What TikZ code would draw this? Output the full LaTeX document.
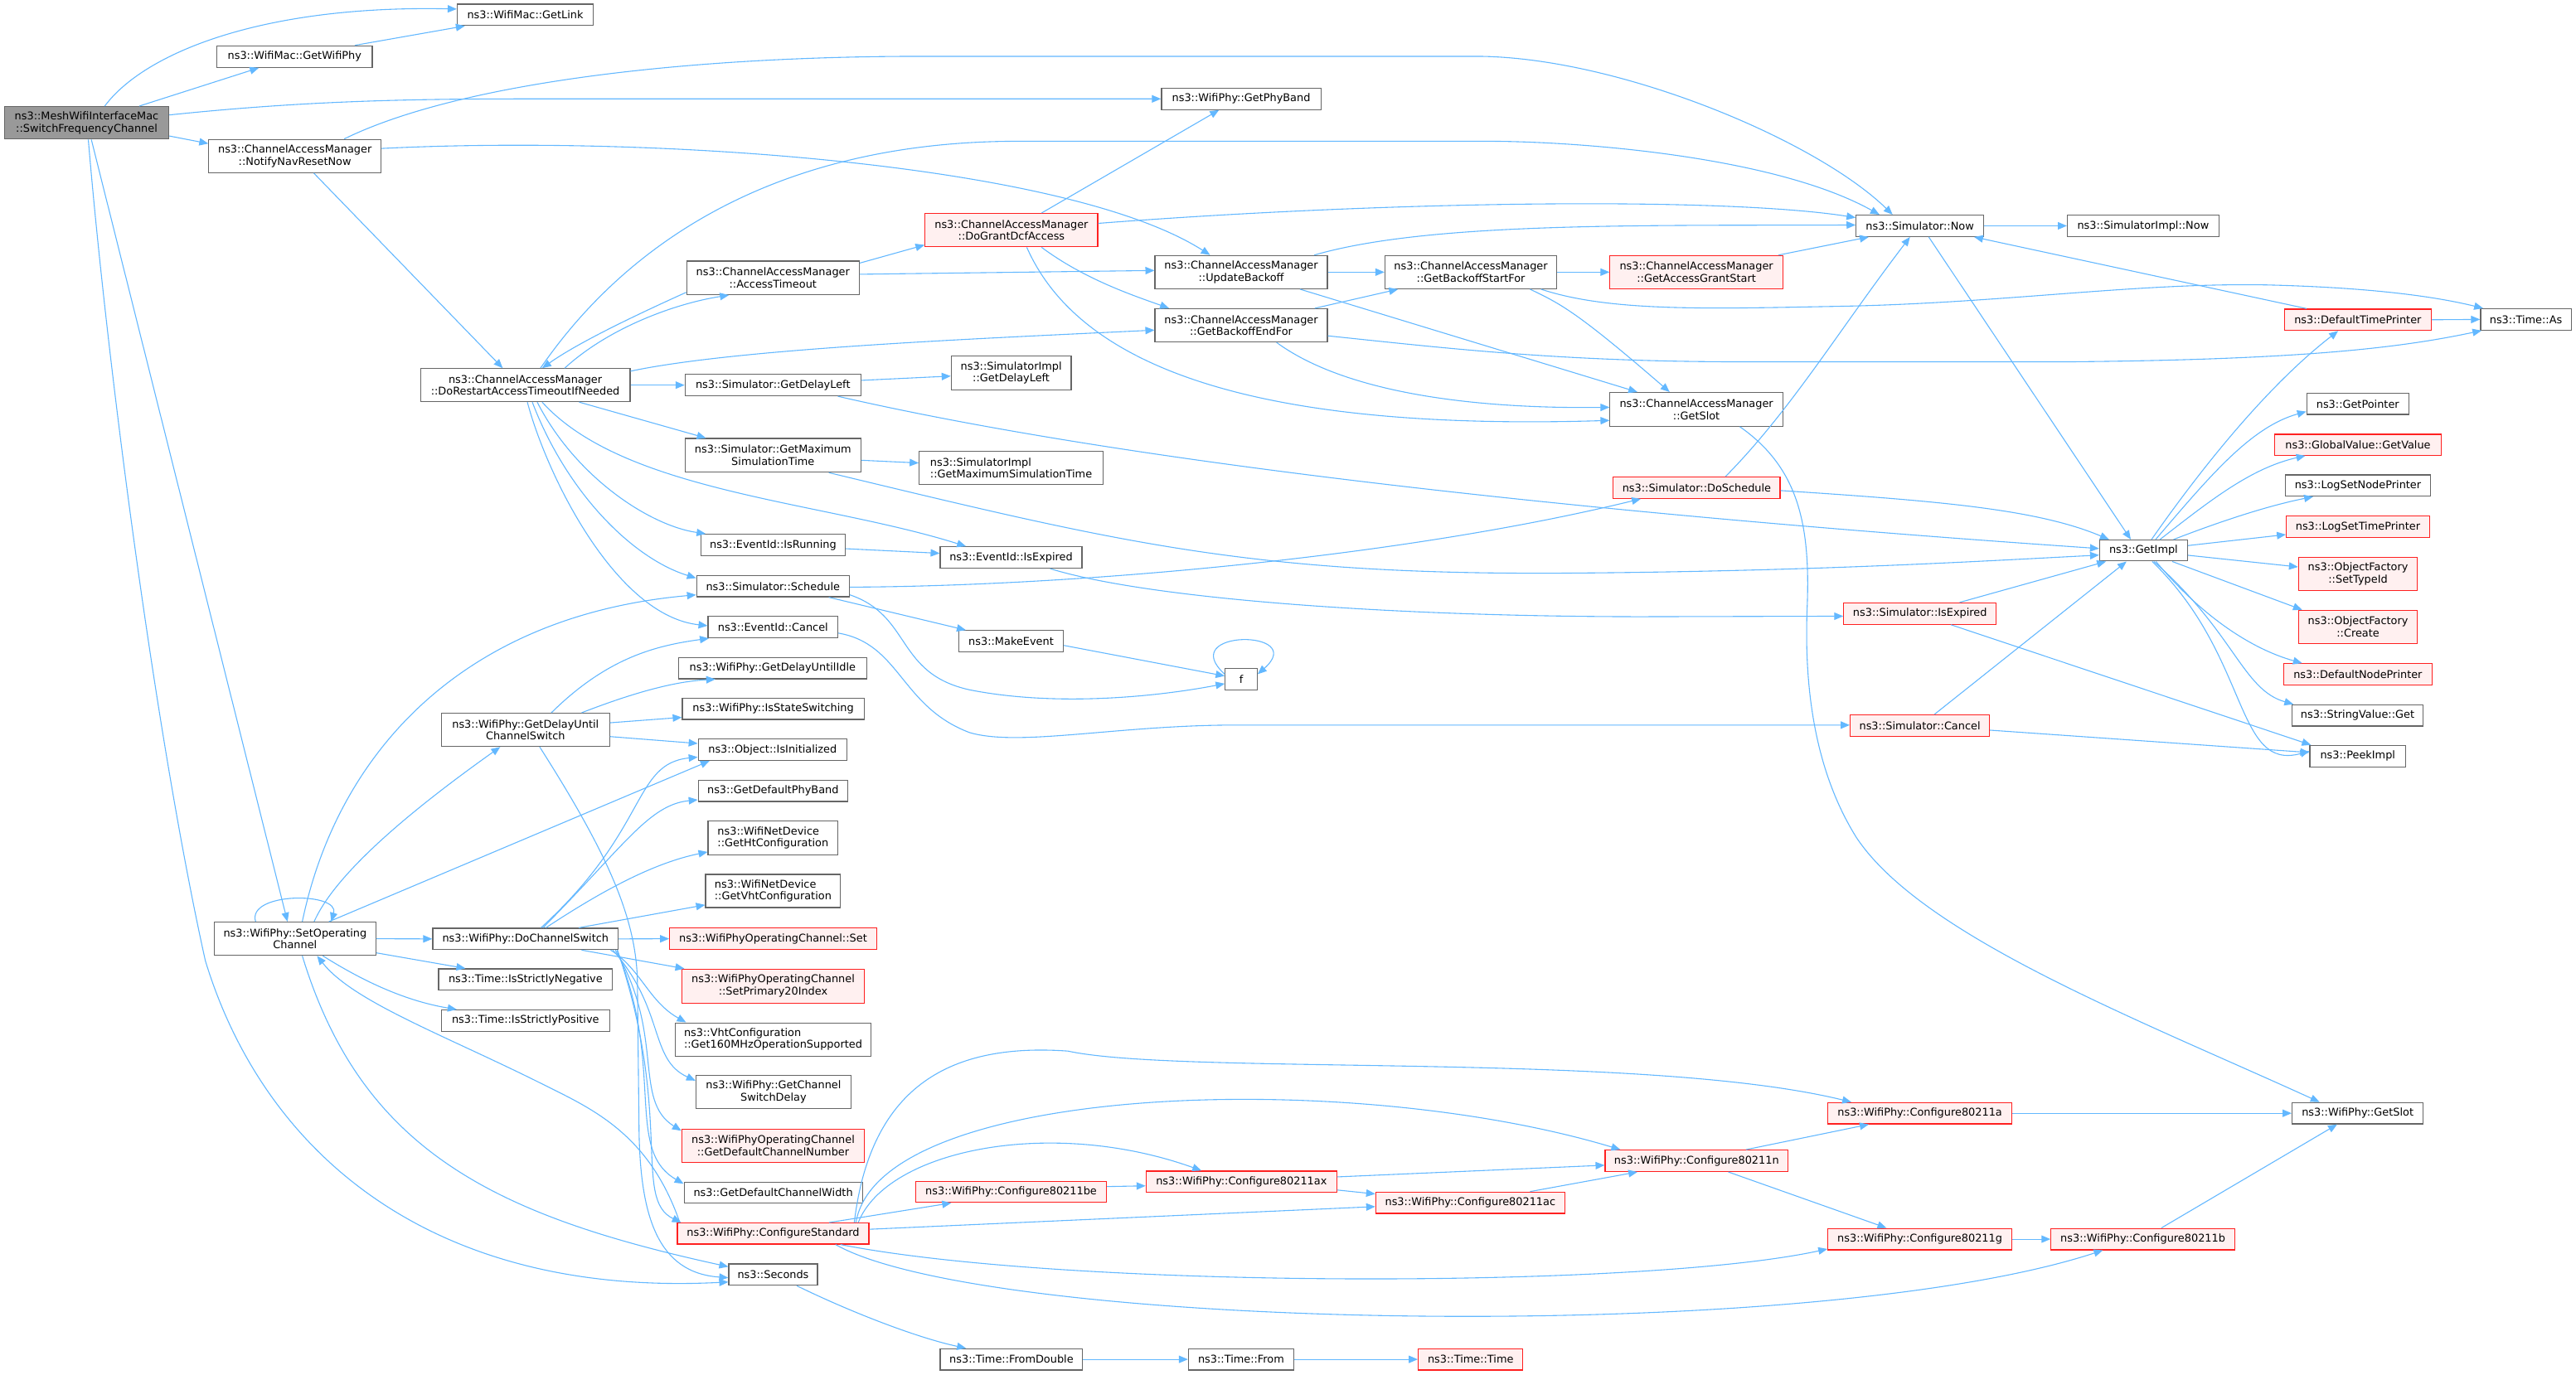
\documentclass[tikz,border=0pt]{standalone}
\usepackage{fontspec}
\setmainfont{DejaVu Sans}
\usetikzlibrary{arrows.meta}
\definecolor{eb}{HTML}{63B8FF}
\definecolor{gb}{HTML}{666666}
\definecolor{rf}{HTML}{FFF0F0}
\definecolor{rb}{HTML}{FF2020}
\definecolor{mf}{HTML}{999999}
\newcommand\mknode[7]{\node[#6,minimum width=#4pt,minimum height=#5pt] (#1) at (#2,#3) {#7};}
\begin{document}
\begin{tikzpicture}[x=1pt,y=-1pt,
  box/.style={draw=gb,fill=white,line width=0.6pt,inner sep=0pt,align=center,font=\fontsize{6.5}{7.4}\selectfont},
  boxl/.style={box,align=left},
  rbox/.style={box,draw=rb,fill=rf,line width=0.6pt},
  mainbox/.style={box,fill=mf},
  cn/.style={draw=eb,line width=0.55pt,-{Triangle[length=5.5pt,width=4.5pt]}}]
\useasboundingbox (0,0) rectangle (1568,837.2);
\fill[white] (0,0) rectangle (1568,837.2);
% nodes
\mknode{main}{52.75}{74.8}{99.9}{19.8}{mainbox}{ns3::MeshWifiInterfaceMac\\::SwitchFrequencyChannel}
\mknode{getlink}{319.7}{9}{82.8}{13}{box}{ns3::WifiMac::GetLink}
\mknode{getwifiphy}{179.3}{34.45}{94.6}{13.1}{box}{ns3::WifiMac::GetWifiPhy}
\mknode{navreset}{179.5}{95}{104.8}{20.2}{box}{ns3::ChannelAccessManager\\::NotifyNavResetNow}
\mknode{setop}{179.6}{571.6}{98.4}{20.2}{box}{ns3::WifiPhy::SetOperating\\Channel}
\mknode{getphyband}{755.5}{60.2}{97}{13}{box}{ns3::WifiPhy::GetPhyBand}
\mknode{dorestart}{319.75}{234.5}{127.5}{20.1}{box}{ns3::ChannelAccessManager\\::DoRestartAccessTimeoutIfNeeded}
\mknode{delaych}{319.85}{444.4}{102.3}{20.2}{box}{ns3::WifiPhy::GetDelayUntil\\ChannelSwitch}
\mknode{dochsw}{319.85}{571.7}{112.9}{13}{box}{ns3::WifiPhy::DoChannelSwitch}
\mknode{negative}{319.9}{596.45}{105.8}{13}{box}{ns3::Time::IsStrictlyNegative}
\mknode{positive}{319.85}{621.45}{102.3}{13}{box}{ns3::Time::IsStrictlyPositive}
\mknode{accto}{470.5}{169.2}{105}{20.4}{box}{ns3::ChannelAccessManager\\::AccessTimeout}
\mknode{delayleft}{470.5}{234.5}{107}{13}{box}{ns3::Simulator::GetDelayLeft}
\mknode{maxsim}{470.5}{277.25}{107}{20.5}{box}{ns3::Simulator::GetMaximum\\SimulationTime}
\mknode{isrunning}{470.55}{331.8}{87.9}{13}{box}{ns3::EventId::IsRunning}
\mknode{schedule}{470.5}{356.9}{93}{13}{box}{ns3::Simulator::Schedule}
\mknode{cancel}{470.5}{381.9}{79}{13}{box}{ns3::EventId::Cancel}
\mknode{untilidle}{470.25}{406.8}{114.5}{13}{box}{ns3::WifiPhy::GetDelayUntilIdle}
\mknode{stateswitch}{470.65}{431.5}{110.7}{13}{box}{ns3::WifiPhy::IsStateSwitching}
\mknode{isinit}{470.25}{456.5}{90.5}{13}{box}{ns3::Object::IsInitialized}
\mknode{defphyband}{470.5}{481.5}{91}{13}{box}{ns3::GetDefaultPhyBand}
\mknode{htconf}{470.5}{510.25}{79}{20.5}{boxl}{ns3::WifiNetDevice\\::GetHtConfiguration}
\mknode{vhtconf}{470.55}{542.5}{82.1}{20.2}{boxl}{ns3::WifiNetDevice\\::GetVhtConfiguration}
\mknode{ocset}{470.6}{571.6}{126}{13}{rbox}{ns3::WifiPhyOperatingChannel::Set}
\mknode{prim20}{470.6}{600.4}{111.2}{20.6}{rbox}{ns3::WifiPhyOperatingChannel\\::SetPrimary20Index}
\mknode{vht160}{470.6}{632.9}{119.2}{20.2}{boxl}{ns3::VhtConfiguration\\::Get160MHzOperationSupported}
\mknode{chswdelay}{470.8}{665}{94.4}{20.2}{box}{ns3::WifiPhy::GetChannel\\SwitchDelay}
\mknode{defchnum}{470.6}{697.5}{111.2}{20.2}{rbox}{ns3::WifiPhyOperatingChannel\\::GetDefaultChannelNumber}
\mknode{defchwidth}{470.65}{726.3}{108.5}{12.8}{box}{ns3::GetDefaultChannelWidth}
\mknode{cfgstd}{470.6}{751.1}{116.6}{12.8}{rbox}{ns3::WifiPhy::ConfigureStandard}
\mknode{seconds}{470.6}{776.1}{54}{13}{box}{ns3::Seconds}
\mknode{grant}{615.65}{140.15}{105.1}{20.3}{rbox}{ns3::ChannelAccessManager\\::DoGrantDcfAccess}
\mknode{impldelayleft}{615.5}{227.1}{73}{20.6}{box}{ns3::SimulatorImpl\\::GetDelayLeft}
\mknode{implmaxsim}{615.45}{284.9}{111.9}{20.4}{boxl}{ns3::SimulatorImpl\\::GetMaximumSimulationTime}
\mknode{isexpired}{615.45}{339.45}{86.3}{13}{box}{ns3::EventId::IsExpired}
\mknode{makeevent}{615.45}{390.45}{63.7}{13}{box}{ns3::MakeEvent}
\mknode{cfbe}{615.45}{725.7}{116.1}{13}{rbox}{ns3::WifiPhy::Configure80211be}
\mknode{fromdouble}{615.65}{827.7}{86.7}{13}{box}{ns3::Time::FromDouble}
\mknode{updbackoff}{755.5}{165.7}{105}{20.2}{box}{ns3::ChannelAccessManager\\::UpdateBackoff}
\mknode{backoffend}{755.5}{198.1}{105}{20.2}{box}{ns3::ChannelAccessManager\\::GetBackoffEndFor}
\mknode{cfax}{755.65}{719.55}{116.1}{13}{rbox}{ns3::WifiPhy::Configure80211ax}
\mknode{tfrom}{755.45}{827.7}{64.1}{13}{box}{ns3::Time::From}
\mknode{fnode}{755.5}{413.5}{19.4}{13}{box}{f}
\mknode{backoffstart}{895.3}{165.7}{104.6}{20.2}{box}{ns3::ChannelAccessManager\\::GetBackoffStartFor}
\mknode{cfac}{894.95}{732.35}{115.1}{13}{rbox}{ns3::WifiPhy::Configure80211ac}
\mknode{ttime}{895.15}{827.7}{63.7}{13}{rbox}{ns3::Time::Time}
\mknode{grantstart}{1032.6}{165.7}{105.2}{20.2}{rbox}{ns3::ChannelAccessManager\\::GetAccessGrantStart}
\mknode{camslot}{1032.6}{249.25}{105.2}{20.5}{box}{ns3::ChannelAccessManager\\::GetSlot}
\mknode{doschedule}{1032.75}{296.95}{101.5}{13}{rbox}{ns3::Simulator::DoSchedule}
\mknode{cfn}{1032.7}{706.8}{111.4}{13}{rbox}{ns3::WifiPhy::Configure80211n}
\mknode{now}{1168.6}{137.5}{77.6}{13}{box}{ns3::Simulator::Now}
\mknode{simisexpired}{1168.65}{373.6}{92.7}{13}{rbox}{ns3::Simulator::IsExpired}
\mknode{simcancel}{1168.6}{441.75}{84.8}{13}{rbox}{ns3::Simulator::Cancel}
\mknode{cfa}{1168.6}{677.85}{112}{13}{rbox}{ns3::WifiPhy::Configure80211a}
\mknode{cfg}{1168.6}{754.5}{112}{13}{rbox}{ns3::WifiPhy::Configure80211g}
\mknode{cfb}{1304.35}{754.5}{111.9}{13}{rbox}{ns3::WifiPhy::Configure80211b}
\mknode{implnow}{1304.5}{137.5}{92.2}{13}{box}{ns3::SimulatorImpl::Now}
\mknode{getimpl}{1304.75}{335.2}{53.5}{12.8}{box}{ns3::GetImpl}
\mknode{deftimeprinter}{1435.2}{194.7}{89.2}{13}{rbox}{ns3::DefaultTimePrinter}
\mknode{timeas}{1537.5}{194.5}{55.2}{13}{box}{ns3::Time::As}
\mknode{getpointer}{1435.15}{245.95}{62.1}{12.8}{box}{ns3::GetPointer}
\mknode{getvalue}{1435.25}{270.8}{101.3}{12.8}{rbox}{ns3::GlobalValue::GetValue}
\mknode{lognode}{1435.25}{295.65}{88.1}{13}{box}{ns3::LogSetNodePrinter}
\mknode{logtime}{1435.25}{320.7}{87.1}{13}{rbox}{ns3::LogSetTimePrinter}
\mknode{settypeid}{1435.3}{349.5}{72.4}{20.2}{rbox}{ns3::ObjectFactory\\::SetTypeId}
\mknode{create}{1435.3}{381.7}{72.4}{20.2}{rbox}{ns3::ObjectFactory\\::Create}
\mknode{defnodeprinter}{1435.2}{410.6}{90.4}{13}{rbox}{ns3::DefaultNodePrinter}
\mknode{stringget}{1435}{435.6}{80}{13}{box}{ns3::StringValue::Get}
\mknode{peekimpl}{1435.15}{460.4}{58.3}{13}{box}{ns3::PeekImpl}
\mknode{physlot}{1435.1}{677.85}{79.8}{13}{box}{ns3::WifiPhy::GetSlot}
% edges
\draw[cn] ([xshift=11pt]main.north) .. controls (88,32) and (160,3) .. ([yshift=3.5pt]getlink.west);
\draw[cn] ([xshift=32pt]main.north) -- ([xshift=-21.7pt]getwifiphy.south);
\draw[cn] ([xshift=36.7pt]getwifiphy.north) -- ([xshift=-36.7pt]getlink.south);
\draw[cn] ([yshift=4.8pt]main.east) .. controls (180,62) and (240,60.2) .. (320,60.2) -- (getphyband.west);
\draw[cn] ([yshift=-8pt]main.east) -- ([yshift=7.6pt]navreset.west);
\draw[cn] ([xshift=2.85pt]main.south) -- ([xshift=-4.6pt]setop.north);
\draw[cn] ([xshift=1pt]main.south) .. controls (65,220) and (95,450) .. (125,585) .. controls (160,700) and (260,790) .. ([yshift=-4.5pt]seconds.west);
\draw[cn] ([xshift=30pt]navreset.north) .. controls (280,50) and (420,34.3) .. (560,34.3) -- (900,34.3) .. controls (985,35) and (1105,85) .. ([xshift=-16.6pt]now.north);
\draw[cn] ([xshift=11.5pt]navreset.south) -- ([xshift=-13.75pt]dorestart.north);
\draw[cn] ([yshift=4.6pt]navreset.east) .. controls (400,82) and (650,100) .. ([xshift=-18.9pt]updbackoff.north);
\draw[cn] ([xshift=9.25pt]dorestart.north) .. controls (380,150) and (470,86) .. (620,86) -- (905,86) .. controls (960,86) and (1080,95) .. ([xshift=-24.6pt]now.north);
\draw[cn] ([xshift=24pt]dorestart.north) .. controls (370,200) and (410,185) .. ([xshift=-26.8pt]accto.south);
\draw[cn] ([yshift=-8.8pt]accto.west) .. controls (380,195) and (350,210) .. ([xshift=10.25pt]dorestart.north);
\draw[cn] ([yshift=8.5pt]dorestart.east) .. controls (450,212) and (600,206) .. ([yshift=-2.9pt]backoffend.west);
\draw[cn] (dorestart.east) -- (delayleft.west);
\draw[cn] ([xshift=32.75pt]dorestart.south) -- ([xshift=-40.8pt]maxsim.north);
\draw[cn] ([xshift=7.25pt]dorestart.south) .. controls (350,290) and (395,320) .. ([xshift=-41pt]isrunning.north);
\draw[cn] ([xshift=4.25pt]dorestart.south) .. controls (345,300) and (385,340) .. ([yshift=4.9pt]schedule.west);
\draw[cn] ([xshift=1.25pt]dorestart.south) .. controls (333,290) and (375,375) .. ([yshift=0.9pt]cancel.west);
\draw[cn] ([xshift=10.25pt]dorestart.south) .. controls (380,300) and (500,305) .. ([xshift=-27.45pt]isexpired.north);
\draw[cn] ([yshift=9pt]accto.east) -- ([yshift=-9pt]grant.west);
\draw[cn] ([yshift=2.2pt]accto.east) -- ([yshift=1pt]updbackoff.west);
\draw[cn] ([xshift=18.35pt]grant.north) -- ([xshift=-13.5pt]getphyband.south);
\draw[cn] ([yshift=4.15pt]grant.east) .. controls (850,122) and (1050,120) .. ([yshift=5pt]now.west);
\draw[cn] ([xshift=18.35pt]grant.south) .. controls (660,170) and (690,180) .. ([xshift=-43.9pt]backoffend.north);
\draw[cn] ([xshift=9.35pt]grant.south) .. controls (660,230) and (780,262) .. ([yshift=-6.75pt]camslot.west);
\draw[cn] (updbackoff.east) -- (backoffstart.west);
\draw[cn] ([xshift=44.5pt]updbackoff.north) .. controls (870,135) and (1000,137.5) .. ([yshift=0.5pt]now.west);
\draw[cn] ([xshift=35.8pt]updbackoff.south) -- ([xshift=-35.9pt]camslot.north);
\draw[cn] ([xshift=44.8pt]backoffend.north) -- ([xshift=-44.3pt]backoffstart.south);
\draw[cn] ([yshift=-6.4pt]backoffend.east) .. controls (880,212) and (950,220.3) .. (1060,220.3) -- (1260,220.3) .. controls (1400,219) and (1460,212) .. ([xshift=-27pt]timeas.south);
\draw[cn] ([xshift=21.5pt]backoffend.south) .. controls (820,240) and (900,249) .. ([yshift=1.25pt]camslot.west);
\draw[cn] (backoffstart.east) -- (grantstart.west);
\draw[cn] ([xshift=42.7pt]backoffstart.south) .. controls (980,190) and (1040,188) .. (1120,186.5) .. controls (1220,184.6) and (1300,172) .. (1380,173.5) .. controls (1440,175) and (1480,180) .. ([xshift=-26pt]timeas.north);
\draw[cn] ([xshift=36pt]backoffstart.south) .. controls (950,185) and (960,190) .. ([xshift=-16.3pt]camslot.north);
\draw[cn] ([xshift=50pt]grantstart.north) -- ([xshift=-31.1pt]now.south);
\draw[cn] (now.east) -- (implnow.west);
\draw[cn] ([xshift=5.4pt]now.south) -- ([xshift=-7.75pt]getimpl.north);
\draw[cn] ([xshift=-31.2pt]deftimeprinter.north) -- ([xshift=33pt]now.south);
\draw[cn] (deftimeprinter.east) -- (timeas.west);
\draw[cn] ([xshift=26.4pt]camslot.south) .. controls (1095,285) and (1102,320) .. (1100,370) .. controls (1098,420) and (1105,470) .. (1130,510) .. controls (1170,570) and (1300,620) .. ([xshift=-23.2pt]physlot.north);
\draw[cn] ([xshift=17.55pt]doschedule.north) .. controls (1090,250) and (1120,200) .. ([xshift=-6pt]now.south);
\draw[cn] ([yshift=-1.75pt]doschedule.east) .. controls (1180,305) and (1240,310) .. ([xshift=-21pt]getimpl.north);
\draw[cn] ([yshift=-0.6pt]schedule.east) .. controls (650,357) and (850,340) .. ([xshift=-34pt]doschedule.south);
\draw[cn] ([xshift=34pt]schedule.south) -- ([xshift=-27.55pt]makeevent.north);
\draw[cn] ([yshift=-5.3pt]schedule.east) .. controls (555,375) and (545,410) .. (590,420) .. controls (640,430) and (700,425) .. ([yshift=-2.8pt]fnode.west);
\draw[cn] ([yshift=-2.55pt]makeevent.east) -- ([yshift=1.9pt]fnode.west);
\draw[cn] ([yshift=3pt]fnode.west) .. controls (715,383) and (797,383) .. ([yshift=3pt]fnode.east);
\draw[cn] ([yshift=2.9pt]delayleft.east) -- ([yshift=-1.9pt]impldelayleft.west);
\draw[cn] ([xshift=39.5pt]delayleft.south) .. controls (700,285) and (1000,315) .. ([yshift=1.2pt]getimpl.west);
\draw[cn] ([yshift=-3pt]maxsim.east) -- ([yshift=3pt]implmaxsim.west);
\draw[cn] ([xshift=34pt]maxsim.south) .. controls (680,330) and (760,350) .. (950,349) .. controls (1100,348) and (1200,342) .. ([yshift=-2.8pt]getimpl.west);
\draw[cn] ([yshift=-2.3pt]isrunning.east) -- ([yshift=2.55pt]isexpired.west);
\draw[cn] ([xshift=23.75pt]isexpired.south) .. controls (700,365) and (850,375.5) .. (1000,375.5) -- ([yshift=-1.6pt]simisexpired.west);
\draw[cn] ([yshift=-3.6pt]cancel.east) .. controls (548,392) and (548,430) .. (590,446) .. controls (620,455) and (680,441.5) .. (752,441.5) -- ([yshift=0.25pt]simcancel.west);
\draw[cn] ([xshift=24.15pt]simisexpired.north) -- ([xshift=-22.85pt]getimpl.south);
\draw[cn] ([xshift=18.85pt]simisexpired.south) -- ([xshift=-28.5pt]peekimpl.north);
\draw[cn] ([xshift=8.9pt]simcancel.north) -- ([xshift=-10.35pt]getimpl.south);
\draw[cn] ([yshift=-2.85pt]simcancel.east) -- ([yshift=2.2pt]peekimpl.west);
\draw[cn] ([xshift=4.85pt]getimpl.north) .. controls (1340,285) and (1380,235) .. ([xshift=-12pt]deftimeprinter.south);
\draw[cn] ([xshift=7.35pt]getimpl.north) .. controls (1345,290) and (1370,260) .. ([yshift=-4.65pt]getpointer.west);
\draw[cn] ([xshift=10pt]getimpl.north) .. controls (1345,305) and (1370,285) .. ([xshift=-32pt]getvalue.south);
\draw[cn] ([xshift=18.25pt]getimpl.north) .. controls (1350,318) and (1380,308) .. ([xshift=-27.25pt]lognode.south);
\draw[cn] ([yshift=3pt]getimpl.east) -- ([yshift=-4.8pt]logtime.west);
\draw[cn] ([yshift=-2.9pt]getimpl.east) -- ([yshift=4.3pt]settypeid.west);
\draw[cn] ([xshift=17.45pt]getimpl.south) -- ([xshift=-34pt]create.north);
\draw[cn] ([xshift=7.55pt]getimpl.south) .. controls (1340,375) and (1370,395) .. ([xshift=-33.9pt]defnodeprinter.north);
\draw[cn] ([xshift=6.25pt]getimpl.south) .. controls (1360,385) and (1365,420) .. ([xshift=-39pt]stringget.north);
\draw[cn] ([xshift=5.25pt]getimpl.south) .. controls (1370,400) and (1360,470) .. ([yshift=3pt]peekimpl.west);
\draw[cn] ([xshift=15.75pt]delaych.north) .. controls (370,400) and (400,393) .. ([xshift=-39pt]cancel.south);
\draw[cn] ([xshift=34.15pt]delaych.north) .. controls (385,422) and (410,415) .. ([xshift=-34.85pt]untilidle.south);
\draw[cn] ([yshift=4.3pt]delaych.east) -- ([yshift=-5.3pt]stateswitch.west);
\draw[cn] ([yshift=-4.1pt]delaych.east) -- ([yshift=3.8pt]isinit.west);
\draw[cn] ([xshift=8.65pt]delaych.south) .. controls (370,520) and (388,560) .. (388,600) -- (389,690) .. controls (390,740) and (400,775) .. ([yshift=-1.9pt]seconds.west);
\draw[cn] ([xshift=-24pt]setop.north) .. controls (150,543) and (207,543) .. ([xshift=22pt]setop.north);
\draw[cn] ([xshift=4.4pt]setop.north) .. controls (205,460) and (280,375) .. ([yshift=-5.3pt]schedule.west);
\draw[cn] ([xshift=11.6pt]setop.north) .. controls (205,530) and (255,490) .. ([xshift=-15.35pt]delaych.south);
\draw[cn] ([xshift=20.6pt]setop.north) -- ([xshift=-38.35pt]isinit.south);
\draw[cn] (setop.east) -- (dochsw.west);
\draw[cn] ([yshift=-8.6pt]setop.east) -- ([xshift=-36.6pt]negative.north);
\draw[cn] ([xshift=16.9pt]setop.south) .. controls (225,600) and (250,610) .. ([xshift=-41.85pt]positive.north);
\draw[cn] ([xshift=4.4pt]setop.south) .. controls (220,700) and (300,740) .. ([yshift=4.8pt]seconds.west);
\draw[cn] ([xshift=-56.8pt]cfgstd.north) .. controls (395,690) and (360,675) .. (330,660) .. controls (270,630) and (215,610) .. ([xshift=13.4pt]setop.south);
\draw[cn] ([xshift=9.45pt]dochsw.north) .. controls (395,505) and (385,465) .. ([yshift=-4.5pt]isinit.west);
\draw[cn] ([xshift=10.65pt]dochsw.north) .. controls (380,515) and (395,490) .. ([yshift=-5.5pt]defphyband.west);
\draw[cn] ([xshift=12.45pt]dochsw.north) .. controls (370,540) and (400,525) .. ([yshift=-8.5pt]htconf.west);
\draw[cn] ([xshift=32.45pt]dochsw.north) -- ([yshift=-8.5pt]vhtconf.west);
\draw[cn] (dochsw.east) -- (ocset.west);
\draw[cn] ([xshift=34.15pt]dochsw.south) -- ([xshift=-54pt]prim20.north);
\draw[cn] ([xshift=51.85pt]dochsw.south) .. controls (390,590) and (395,610) .. ([xshift=-53pt]vht160.north);
\draw[cn] ([xshift=53.15pt]dochsw.south) .. controls (405,615) and (395,645) .. ([yshift=7pt]chswdelay.west);
\draw[cn] ([xshift=54.65pt]dochsw.south) .. controls (405,630) and (385,670) .. ([yshift=9pt]defchnum.west);
\draw[cn] ([xshift=55.65pt]dochsw.south) .. controls (405,650) and (380,700) .. ([yshift=5.5pt]defchwidth.west);
\draw[cn] ([xshift=56pt]dochsw.south) .. controls (410,680) and (385,730) .. ([xshift=-56pt]cfgstd.north);
\draw[cn] ([xshift=34.1pt]cfgstd.north) -- ([xshift=-36.45pt]cfbe.south);
\draw[cn] ([yshift=3.2pt]cfbe.east) -- ([yshift=-2.5pt]cfax.west);
\draw[cn] ([xshift=51.8pt]cfgstd.north) .. controls (540,700) and (640,680) .. ([xshift=-24.35pt]cfax.north);
\draw[cn] ([xshift=50.4pt]cfgstd.north) .. controls (535,660) and (820,650) .. ([xshift=-46.4pt]cfn.north);
\draw[cn] ([xshift=49.4pt]cfgstd.north) .. controls (530,660) and (580,635) .. (650,640) .. controls (720,655) and (1000,640) .. ([xshift=-41.7pt]cfa.north);
\draw[cn] ([yshift=2.6pt]cfgstd.east) -- ([yshift=-2.35pt]cfac.west);
\draw[cn] ([xshift=41pt]cfgstd.south) .. controls (650,785) and (1000,785) .. ([yshift=-6pt]cfg.west);
\draw[cn] ([xshift=38pt]cfgstd.south) .. controls (600,810) and (1100,820) .. ([xshift=-24.35pt]cfb.south);
\draw[cn] ([yshift=2.95pt]cfax.east) -- ([yshift=-2.7pt]cfn.west);
\draw[cn] ([yshift=-5.05pt]cfax.east) -- ([yshift=5.35pt]cfac.west);
\draw[cn] ([xshift=36.35pt]cfac.north) -- ([xshift=-36pt]cfn.south);
\draw[cn] ([xshift=30.1pt]cfn.north) -- ([xshift=-31.1pt]cfa.south);
\draw[cn] ([xshift=19.3pt]cfn.south) -- ([xshift=-20.3pt]cfg.north);
\draw[cn] (cfa.east) -- (physlot.west);
\draw[cn] (cfg.east) -- (cfb.west);
\draw[cn] ([xshift=11.25pt]cfb.north) -- ([xshift=-12.5pt]physlot.south);
\draw[cn] ([xshift=14.4pt]seconds.south) .. controls (520,800) and (560,815) .. ([xshift=-27.65pt]fromdouble.north);
\draw[cn] (fromdouble.east) -- (tfrom.west);
\draw[cn] (tfrom.east) -- (ttime.west);
\end{tikzpicture}
\end{document}
